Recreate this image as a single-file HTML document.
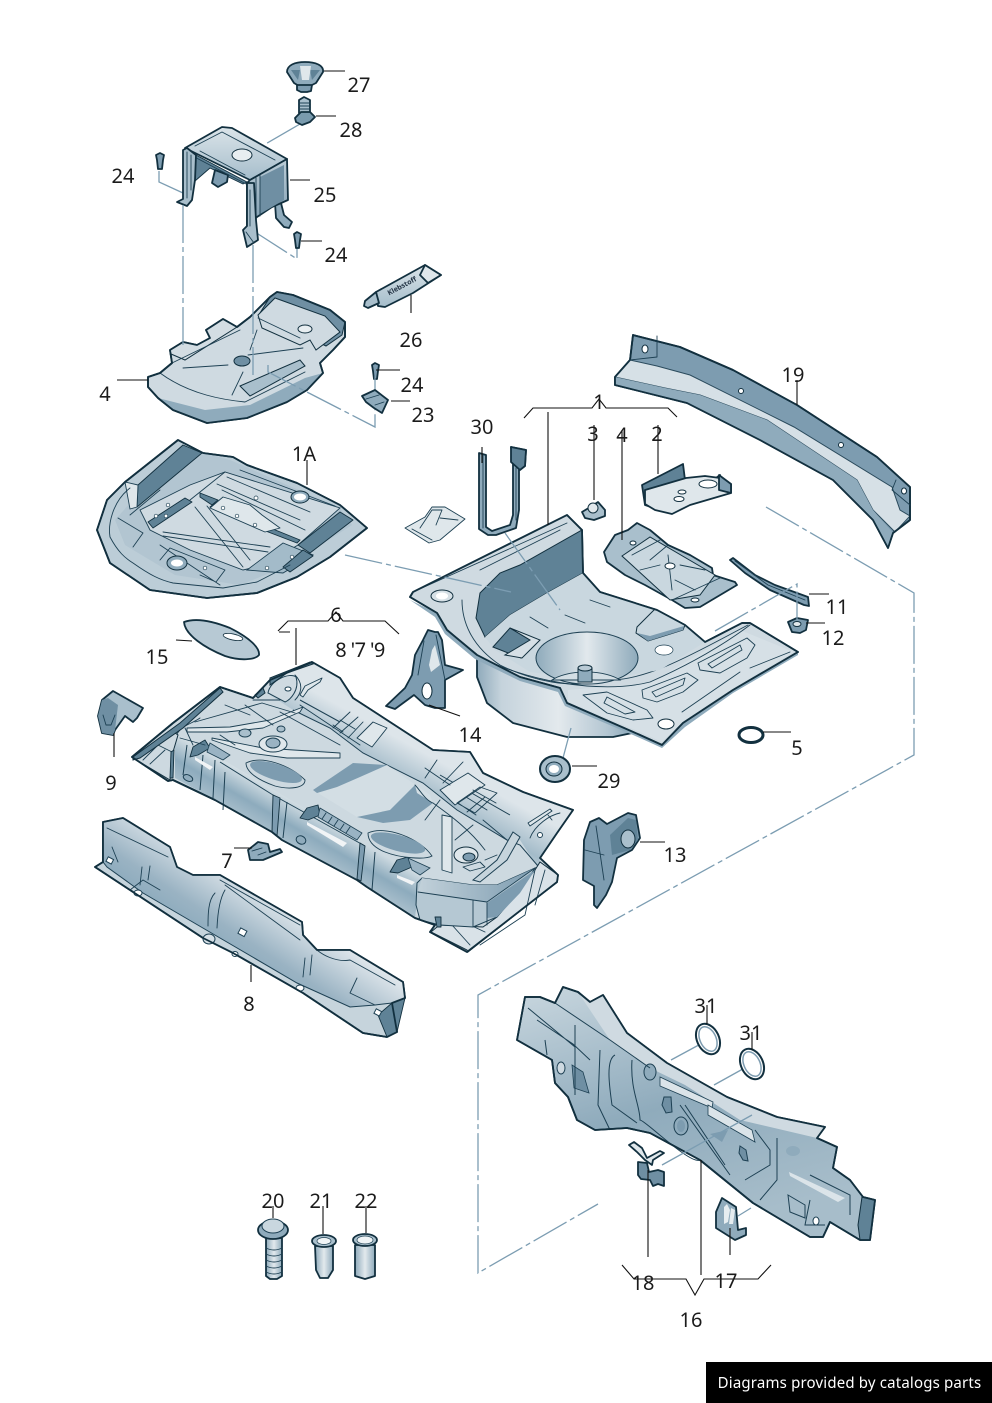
<!DOCTYPE html>
<html><head><meta charset="utf-8"><title>Diagram</title>
<style>
html,body{margin:0;padding:0;background:#fff}
svg{display:block}
text{font-family:"Noto Sans","Noto Sans CJK JP","Liberation Sans",sans-serif;font-size:20px;fill:#1b1b1b;text-anchor:middle}
.o{stroke:#12303f;stroke-width:1.8;stroke-linejoin:round;stroke-linecap:round}
.t{fill:none;stroke:#1d4053;stroke-width:.9;stroke-linecap:round;stroke-linejoin:round}
.l{fill:none;stroke:#111;stroke-width:1.1}
.d{fill:none;stroke:#7c9db2;stroke-width:1.3;stroke-dasharray:38 4 5 4}
.s{fill:none;stroke:#7c9db2;stroke-width:1.3}
.lt{fill:#dfe7eb;stroke:#1d4053;stroke-width:.9;stroke-linejoin:round}
.dk{fill:#5f8296;stroke:#12303f;stroke-width:.9;stroke-linejoin:round}
</style></head><body>
<svg width="992" height="1403" viewBox="0 0 992 1403" xmlns="http://www.w3.org/2000/svg">
<defs>
<linearGradient id="v" x1="0" y1="0" x2="0" y2="1"><stop offset="0" stop-color="#dbe4e9"/><stop offset="1" stop-color="#a5bdcb"/></linearGradient>
<linearGradient id="m" x1="0" y1="0" x2="0" y2="1"><stop offset="0" stop-color="#bccdd7"/><stop offset="1" stop-color="#7d9cb0"/></linearGradient>
<linearGradient id="tub" x1="0" y1="0" x2="1" y2="0"><stop offset="0" stop-color="#8faabb"/><stop offset=".15" stop-color="#c5d3dc"/><stop offset=".5" stop-color="#e3e9ed"/><stop offset=".8" stop-color="#b3c6d2"/><stop offset="1" stop-color="#7f9eb1"/></linearGradient>
<linearGradient id="well" x1="0" y1="0" x2="1" y2="0"><stop offset="0" stop-color="#8eaabb"/><stop offset=".5" stop-color="#e2e9ed"/><stop offset="1" stop-color="#8eaabb"/></linearGradient>
<linearGradient id="dash" x1="0" y1="0" x2=".4" y2="1"><stop offset="0" stop-color="#c9d7df"/><stop offset=".55" stop-color="#8fabbc"/><stop offset="1" stop-color="#a7bdca"/></linearGradient>
<linearGradient id="wall" gradientUnits="userSpaceOnUse" x1="300" y1="805" x2="280" y2="840"><stop offset="0" stop-color="#d3dee4"/><stop offset=".55" stop-color="#8dabbd"/><stop offset="1" stop-color="#a9bfcc"/></linearGradient>
<linearGradient id="rail" gradientUnits="userSpaceOnUse" x1="410" y1="745" x2="385" y2="790"><stop offset="0" stop-color="#dde5ea"/><stop offset=".7" stop-color="#a3bbc9"/><stop offset="1" stop-color="#c6d4dc"/></linearGradient>
<linearGradient id="tun" gradientUnits="userSpaceOnUse" x1="270" y1="895" x2="230" y2="955"><stop offset="0" stop-color="#e0e7ec"/><stop offset=".7" stop-color="#9ab3c3"/><stop offset="1" stop-color="#8dabbd"/></linearGradient>
<linearGradient id="blk" x1="0" y1="0" x2="1" y2="0"><stop offset="0" stop-color="#c2d1da"/><stop offset="1" stop-color="#7d9cb0"/></linearGradient>
</defs>
<rect width="992" height="1403" fill="#fff"/>

<!-- background dash lines -->
<path class="d" d="M766 507 914 593V755L478 995V1273L598 1204"/>
<path class="d" d="M300 124 250 153"/>
<path class="s" d="M159 171V182L183 193"/>
<path class="d" d="M255 232 297 259V243"/>

<!-- 27 knob -->
<path class="o" fill="#8fabbc" d="M287 72C287 65 295 62 305 62S324 65 323 72L316 83 310 86H299L294 83Z"/>
<path fill="#5f8296" d="M291 70 298 80 300 70ZM320 70 312 80 310 70Z"/>
<path fill="#dfe7eb" d="M300 66H311L309 80H302Z"/>
<path class="o" fill="#7d9cb0" d="M297 85H312L311 91 307 92H301L297 90Z"/>
<!-- 28 bolt -->
<path class="o" fill="#a9bfcc" d="M299 100 304 97 310 100V113H299Z"/>
<path class="t" d="M299 103H310M299 106H310M299 109H310"/>
<path class="o" fill="#7a9bae" d="M295 118 301 112H310L315 117 310 122 302 125 296 122Z"/>
<!-- 24 bolts -->
<path class="o" fill="#7d9cb0" d="M156 155 160 153 164 155 163 160 162 169H158L157 160Z"/>
<path class="o" fill="#7d9cb0" d="M294 234 297 232 301 234 300 240 299 248H296L295 240Z"/>
<path class="o" fill="#7d9cb0" d="M372 365 375 363 379 365 378 371 377 379H374L373 371Z"/>

<!-- 25 bracket -->
<path class="dk" d="M196 155 247 182 243 184 210 168 195 181Z"/>
<path class="o" fill="#7d9cb0" d="M212 183 215 170 228 175 227 182 218 187Z"/>
<path class="o" fill="#8fabbc" d="M275 203 281 203 284 215 292 222 289 228 284 227 276 218Z"/>
<path class="o" fill="url(#v)" d="M185 148 222 127 232 128 287 159 250 180Z"/>
<ellipse cx="242" cy="155" rx="10" ry="6" fill="#e8eef1" stroke="#12303f" stroke-width="1"/>
<path class="t" d="M195 146 222 132 275 160M200 151 245 175M185 152 248 185"/>
<path class="o" fill="url(#m)" d="M250 180 287 159 288 200 272 207 257 217 247 227V183Z"/>
<path d="M260 177 284 165V200L260 214Z" fill="#6f8fa3"/>
<path class="t" d="M256 178V220M260 175V216"/>
<path class="o" fill="#a9bfcc" d="M183 150 187 148 196 155 195 180 192 200 187 206 177 202 183 199Z"/>
<path class="t" d="M187 152V198M191 155V190"/>
<path class="o" fill="#a9bfcc" d="M247 183 254 183 256 220 258 240 247 247 243 230 247 226Z"/>
<path class="t" d="M250 190V226M246 232 254 243"/>

<!-- 26 tube -->
<path class="o" fill="url(#v)" d="M376 292 425 265 441 275 413 293 385 307 378 306Z"/>
<path class="o" fill="#a9bfcc" d="M376 292 365 301 364 306 368 308 379 303Z"/>
<path class="o" fill="#dfe7eb" d="M425 265 441 275 428 283 420 275Z"/>
<text x="403" y="288" transform="rotate(-28 403 288)" style="font-size:7px;font-weight:bold;fill:#234">Klebstoff</text>

<!-- 4 upper tray -->
<path class="o" fill="#cfdae1" d="M148 377 160 373 172 363 170 350 183 342 197 345 210 338 206 330 223 319 237 327 250 317 270 297 277 292 293 295 330 310 345 322 345 337 333 350 320 363 323 373 307 390 287 402 247 418 207 423 173 410 158 398 148 387Z"/>
<path fill="#6f8fa3" stroke="#12303f" d="M270 297 277 292 293 295 330 310 345 322 342 335 326 346 310 338 300 320 260 313Z"/>
<path fill="#cfdae1" stroke="#12303f" d="M258 315 275 298 325 316 340 332 316 350 310 340 300 345 262 328Z"/>
<path fill="#d3dde3" stroke="#12303f" d="M170 350 183 342 197 345 210 338 206 330 223 319 237 327 185 360 171 354Z"/>
<path class="t" d="M160 373C190 395 225 400 245 402L305 372M172 363 240 330M183 368 228 365M248 355 303 348M258 318 300 338M243 372 232 395M257 330 250 350"/>
<path fill="#a9bfcc" stroke="#12303f" d="M240 386 300 360 305 366 250 396Z"/>
<ellipse cx="242" cy="361" rx="8" ry="5" fill="#6f8fa3" stroke="#12303f"/>
<ellipse cx="305" cy="329" rx="7" ry="4" fill="#e8eef1" stroke="#12303f"/>
<path fill="#8fabbc" d="M158 398 205 410 250 405 305 378 323 373 307 390 287 402 247 418 207 423 173 410Z"/>
<path class="o" fill="none" d="M148 377 160 373 172 363 170 350 183 342 197 345 210 338 206 330 223 319 237 327 250 317 270 297 277 292 293 295 330 310 345 322 345 337 333 350 320 363 323 373 307 390 287 402 247 418 207 423 173 410 158 398 148 387Z"/>
<path class="d" d="M183 205V345"/>
<path class="d" d="M253 245V375"/>
<path class="d" d="M268 365V372L375 427V395"/>
<path class="s" d="M375 372V395"/>

<!-- 23 -->
<path class="o" fill="#8fabbc" d="M362 396 375 390 388 400 382 413 374 408 366 402Z"/>
<path class="t" d="M366 399 379 395M375 405 384 402"/>

<!-- 1A tray -->
<path class="o" fill="#bccdd7" d="M178 440 203 453 233 457 247 465 297 483 340 505 367 528 330 557 297 577 257 593 207 598 150 590 110 563 97 530 107 500 125 482Z"/>
<path fill="#a9bfcc" d="M180 447 230 460 340 508 352 525 290 565 240 585 175 575 125 545 115 520Z" opacity=".55"/>
<path fill="#cfdae1" stroke="#1d4053" stroke-width=".9" d="M140 510 190 485 225 472 340 508 298 545 265 565 243 570 190 550 150 530Z"/>
<path class="dk" d="M137 507 138 485 183 445 202 453Z"/>
<path class="lt" d="M125 482 138 485 137 507 130 509Z"/>
<path class="dk" d="M298 545 340 512 353 520 310 553Z"/>
<path class="dk" d="M148 522 185 498 192 502 153 528Z"/>
<path class="dk" d="M200 493 218 500 212 505 200 497Z"/>
<path class="dk" d="M210 507 263 530 297 543 300 540 263 525 215 503Z"/>
<path fill="#a3bbc9" stroke="#1d4053" stroke-width=".9" d="M247 570 283 543 313 555 283 573Z"/>
<path class="dk" d="M283 567 303 550 313 556 290 572Z"/>
<path class="lt" d="M210 508 223 497 250 505 262 515 280 528 265 532Z"/>
<path class="t" d="M130 488C112 502 108 525 110 537 118 552 125 558 133 563 150 575 160 580 173 583L223 588 257 582 290 565M225 472 190 500M195 507 243 567M207 506 250 560M163 532 270 547M163 536 268 552M118 518 143 533 133 547M160 545 220 585M160 560 170 548 225 570 216 582 200 575M227 477 310 512M217 484 300 520M222 490 305 530M240 470 335 506M160 490 130 515"/>
<ellipse cx="177" cy="563" rx="10" ry="7" fill="#8fabbc" stroke="#12303f"/>
<ellipse cx="177" cy="563" rx="6" ry="3.500" fill="#fff"/>
<ellipse cx="300" cy="497" rx="9" ry="6" fill="#8fabbc" stroke="#12303f"/>
<ellipse cx="300" cy="497" rx="6" ry="3.500" fill="#fff"/>
<g fill="#fff" stroke="#1d4053" stroke-width=".7"><circle cx="256" cy="498" r="2"/><circle cx="223" cy="508" r="1.800"/><circle cx="237" cy="516" r="1.800"/><circle cx="255" cy="525" r="1.800"/><circle cx="156" cy="516" r="1.800"/><circle cx="166" cy="516" r="1.800"/><circle cx="168" cy="505" r="1.800"/><circle cx="267" cy="568" r="1.800"/><circle cx="292" cy="557" r="1.800"/><circle cx="205" cy="568" r="1.800"/></g>
<path class="o" fill="none" d="M178 440 203 453 233 457 247 465 297 483 340 505 367 528 330 557 297 577 257 593 207 598 150 590 110 563 97 530 107 500 125 482Z"/>

<!-- 30 small plate -->
<path class="lt" d="M405 528 425 517 432 507 445 507 465 519 440 540 429 543Z"/>
<path class="t" d="M420 528 432 510 442 510 436 525M412 529 432 540M440 518 458 520"/>
<!-- 30 strap -->
<path class="o" fill="#8fabbc" d="M479 453 486 455 486 527 492 531 510 525 513 515 513 462 511 447 526 450 525 466 519 470 519 510 516 528 496 535 488 535 479 529Z"/>
<path class="t" d="M483 455V528M516 468V520"/>
<path class="o" fill="#5f8296" d="M511 447 526 450 525 466 520 470 511 462Z"/>

<!-- 3 -->
<path class="o" fill="#a9bfcc" d="M582 512 592 506 598 502 605 510 605 516 594 520 585 518Z"/>
<ellipse cx="593" cy="508" rx="5" ry="5" fill="#e2e9ed" stroke="#12303f"/>

<!-- 2 -->
<path class="o" fill="#5f8296" d="M642 485 683 464 685 480 700 490 720 475 719 490 660 510 645 505Z"/>
<path class="o" fill="#dfe7eb" d="M645 490 686 478 705 476 720 478 731 484 731 493 690 505 672 514 655 510 645 504Z"/>
<ellipse cx="708" cy="484" rx="9" ry="4" fill="#fff" stroke="#12303f"/>
<ellipse cx="682" cy="492" rx="4" ry="2" fill="#fff" stroke="#12303f"/>
<ellipse cx="679" cy="499" rx="5" ry="2.500" fill="#fff" stroke="#12303f"/>
<path class="o" fill="#7d9cb0" d="M719 475 731 484 731 493 719 490Z"/>

<!-- 4 lower tray -->
<path class="o" fill="#a9bfcc" d="M604 552 615 535 628 530 637 523 650 530 668 545 690 555 712 568 713 575 735 582 737 585 700 607 685 608 672 600 645 585 625 575 607 562Z"/>
<path fill="#c9d7df" stroke="#12303f" d="M622 556 650 537 715 575 700 595 670 600Z"/>
<path class="t" d="M632 555 660 540M650 560 668 545M675 580 695 590M640 570 660 565M668 555 672 590M680 565 705 570M672 600 720 578"/>
<ellipse cx="670" cy="566" rx="5" ry="3" fill="#fff" stroke="#12303f"/>
<ellipse cx="633" cy="543" rx="3" ry="2" fill="#fff" stroke="#12303f"/>
<ellipse cx="695" cy="600" rx="4" ry="2" fill="#fff" stroke="#12303f"/>

<!-- 19 beam -->
<path class="o" fill="#7d9cb0" d="M633 335 630 360 615 377 615 385 687 403 760 440 833 480 873 520 888 548 893 533 910 520 910 487 877 457 797 405 733 370 680 347Z"/>
<path fill="#d6e0e6" stroke="#2a4a5c" d="M630 360 615 377 665 388 700 395 767 420 857 480 873 510 895 532 910 516 900 510 892 487 794 427 690 375 657 366Z"/>
<path fill="#8fabbc" d="M615 377 665 388 700 395 767 420 857 480 873 510 893 533 888 548 873 520 833 480 760 440 687 403 615 385Z"/>
<path class="o" fill="none" d="M633 335 630 360 615 377 615 385 687 403 760 440 833 480 873 520 888 548 893 533 910 520 910 487 877 457 797 405 733 370 680 347Z"/>
<g fill="#fff" stroke="#12303f" stroke-width="1"><ellipse cx="645" cy="349" rx="3" ry="4"/><ellipse cx="741" cy="391" rx="2.500" ry="2.500"/><ellipse cx="841" cy="445" rx="2.500" ry="2.500"/><ellipse cx="904" cy="491" rx="2.500" ry="3"/></g>
<path class="t" d="M657 336V357L630 360M896 480 892 490 910 505"/>

<!-- 11 -->
<path class="o" fill="#7d9cb0" d="M730 560 733 558 755 575 775 585 808 597 809 606 804 605 770 590 745 573Z"/>
<path class="t" d="M735 561 768 585 805 600"/>
<!-- 12 -->
<path class="o" fill="#7d9cb0" d="M788 622 797 618 808 620 806 630 800 633 792 632Z"/>
<ellipse cx="797" cy="624" rx="4" ry="2.500" fill="#e2e9ed" stroke="#12303f"/>

<!-- 1 trunk -->
<path class="o" fill="url(#tub)" d="M477 650 640 720 637 732 613 737 567 737 513 723 487 703 477 677Z"/>
<path class="o" fill="#cfdae1" d="M410 597 413 592 567 515 582 530 583 573 600 592 657 610 685 625 705 642 742 623 750 623 798 652 733 690 683 723 662 745 640 735 567 703 560 688 520 677 477 655 447 630 437 613Z"/>
<path fill="#5f8296" stroke="#12303f" d="M582 530 583 573 547 593 510 615 485 637 476 618 480 593 500 573 520 565Z"/>
<path class="t" d="M413 592 567 523M480 570 560 530M462 600C462 620 470 645 500 665 530 680 570 690 610 680 650 680 700 650 748 625"/>
<path fill="#c9d7df" d="M485 637 510 615 547 593 583 573 600 592 657 610 685 625 705 642 660 670 600 680 530 672 495 650Z"/>
<path fill="#5f8296" stroke="#12303f" d="M493 647 510 628 530 640 521 658Z"/>
<path fill="#d6e0e6" stroke="#12303f" d="M510 628 540 640 522 658 505 655 530 640Z"/>
<ellipse cx="587" cy="658" rx="51" ry="26" fill="url(#well)" stroke="#1d4053"/>
<path d="M552 680A40 17 0 0 1 620 680Z" fill="#d3dee4" stroke="#1d4053" stroke-width=".9"/>
<rect x="578" y="668" width="14" height="14" fill="#8fabbc" stroke="#12303f"/>
<ellipse cx="585" cy="668" rx="7" ry="3" fill="#b9cad5" stroke="#12303f"/>
<path fill="#c9d7df" stroke="#12303f" d="M637 627 655 609 685 625 683 630 648 641 636 633Z"/>
<path fill="#7d9cb0" d="M637 633 648 641 683 630 684 626 650 636Z"/>
<ellipse cx="664" cy="650" rx="9" ry="5" fill="#fff" stroke="#1d4053" stroke-width=".7"/>
<ellipse cx="442" cy="596" rx="11" ry="6" fill="#d6e0e6" stroke="#12303f"/>
<ellipse cx="442" cy="596" rx="6" ry="3.500" fill="#fff"/>
<path class="t" d="M530 617 548 628M565 615 585 623M590 600 610 607"/>
<path fill="#d6e0e6" d="M568 690 650 683 740 630 794 652 730 690 682 722 662 742 640 732 568 702Z"/>
<path fill="#8fabbc" d="M410 600 437 613 447 630 477 655 520 677 560 688 567 703 640 735 662 745 683 723 733 690 798 652 798 655 733 693 685 727 662 748 640 738 565 706 558 692 520 681 475 659 445 634 435 617Z"/>
<path class="t" d="M477 655C520 680 600 695 650 682 700 660 730 640 750 625"/>
<path class="t" fill="none" d="M583 695 607 692 647 710 653 718 633 720 607 713ZM642 690 687 673 698 680 683 692 657 702 643 698ZM698 663 747 638 755 645 747 658 720 673 700 670ZM607 697 635 712 625 714 604 703ZM652 692 685 678 683 685 656 697ZM708 664 740 645 742 650 712 668Z"/>
<ellipse cx="666" cy="724" rx="8" ry="5" fill="#fff" stroke="#12303f"/>
<path class="t" d="M682 712 740 672M750 668 790 652"/>
<path class="o" fill="none" d="M410 597 413 592 567 515 582 530 583 573 600 592 657 610 685 625 705 642 742 623 750 623 798 652 733 690 683 723 662 745 640 735 567 703 560 688 520 677 477 655 447 630 437 613Z"/>
<path class="d" d="M345 555 511 592"/>
<path class="d" d="M505 533 560 610"/>
<path class="d" d="M715 631 797 584V620"/>
<path class="s" d="M571 728 563 758"/>

<!-- 5 -->
<ellipse cx="751" cy="735" rx="12" ry="7.500" fill="none" stroke="#12303f" stroke-width="3"/>
<!-- 29 -->
<ellipse cx="555" cy="769" rx="15" ry="13" fill="#a9bfcc" stroke="#12303f" stroke-width="2"/>
<ellipse cx="554" cy="769" rx="8" ry="7" fill="#8fabbc" stroke="#12303f"/>
<ellipse cx="554" cy="769" rx="5" ry="4" fill="#fff"/>

<!-- 15 -->
<path class="o" fill="#b7c9d4" d="M184 622C195 618 210 620 230 628 250 638 260 648 259 655 255 660 240 661 225 656 205 648 185 635 184 622Z"/>
<ellipse cx="233" cy="637" rx="10" ry="3" transform="rotate(12 233 637)" fill="#fff" stroke="#12303f" stroke-width=".8"/>

<!-- 14 -->
<path class="o" fill="#7d9cb0" d="M423 640 428 630 435 632 438 632 442 640 445 665 463 670 445 680 445 708 435 708 425 705 414 695 395 709 386 706 405 688 412 675 415 655Z"/>
<path fill="#dfe7eb" d="M432 650 435 645 440 665 431 672 429 665Z"/>
<ellipse cx="427" cy="691" rx="5" ry="8" fill="#fff" stroke="#12303f"/>
<path class="t" d="M424 641 418 675M436 635 445 680"/>

<!-- 9 -->
<path class="o" fill="#a9bfcc" d="M102 700 113 691 143 708 137 718 133 722 125 716 115 730 113 735 102 733 98 716Z"/>
<path fill="#6f8fa3" d="M98 716 102 700 108 698 118 705 115 730 113 735 102 733Z"/>
<path class="t" d="M103 715 106 725M115 715 111 725M106 725H111"/>

<!-- 6 floor -->
<path class="o" fill="#cdd9e0" d="M132 757 173 723 220 687 253 698 270 680 312 662 340 678 353 698 433 750 470 752 483 773 523 792 573 810 557 833 540 858 558 875 557 882 467 952 430 932 435 925 415 918 367 887 357 880 282 840 272 832 215 800 173 780 168 781Z"/>
<!-- rail -->
<path fill="url(#rail)" d="M270 680 312 662 340 678 353 698 433 750 470 752 483 773 523 792 573 810 557 833 540 858 538 868 520 840 507 840 457 810 423 783 363 753 330 728 293 710 270 695Z"/>
<path fill="none" stroke="#1d4053" d="M293 710 330 728 363 753 423 783 457 810 507 840 520 845 538 866M300 700 340 722M440 775 510 815"/>
<path class="lt" d="M357 738 373 722 387 728 372 747Z"/>
<path class="lt" d="M440 790 468 773 485 785 455 805Z"/>
<path class="t" d="M333 725 343 732M340 720 355 729M350 712 333 728M358 717 340 733M363 722 348 738M425 778 437 760M443 783 463 762M425 768 450 785M457 803 480 787 497 793 475 813ZM466 797 487 810M473 790 496 803M467 812 485 797M458 803 476 815"/>
<!-- wall -->
<path fill="url(#wall)" d="M175 738C178 733 190 740 215 755L420 877 415 918 367 887 357 880 282 840 272 832 215 800 175 778Z"/>
<path fill="none" stroke="#1d4053" stroke-width="1" d="M220 762 273 795 365 846M187 745 183 775M203 755 200 790M215 760 213 798M225 772 223 810M287 802 283 838M375 852 372 890"/>
<path class="dk" style="fill:#7d9cb0" d="M273 795 280 798 277 836 272 832Z"/>
<path class="dk" style="fill:#7d9cb0" d="M360 843 365 846 361 881 357 879Z"/>
<ellipse cx="188" cy="778" rx="5" ry="3" transform="rotate(25 188 778)" fill="#8fabbc" stroke="#1d4053"/>
<ellipse cx="301" cy="840" rx="5" ry="4" transform="rotate(25 301 840)" fill="#8fabbc" stroke="#1d4053"/>
<path class="dk" d="M190 757 193 747 205 740 210 748 198 755Z"/>
<path fill="#9ab3c3" stroke="#1d4053" stroke-width=".8" d="M210 743 230 755 223 760 207 752Z"/>
<path fill="#f1f4f6" d="M195 757 213 767 210 770 195 760Z"/>
<path class="dk" d="M300 818 307 808 318 805 320 815 308 820Z"/>
<path fill="#9ab3c3" stroke="#1d4053" stroke-width=".8" d="M320 808 362 833 357 840 318 817Z"/>
<path class="t" d="M326 813 322 819M332 817 328 823M338 820 334 826M344 824 340 830M350 827 346 833"/>
<path fill="#f1f4f6" d="M307 822 347 843 343 847 307 825Z"/>
<path class="dk" d="M390 872 397 860 408 857 412 867 398 873Z"/>
<path fill="#9ab3c3" stroke="#1d4053" stroke-width=".8" d="M408 858 430 868 420 875 412 870Z"/>
<path fill="#f1f4f6" d="M397 875 415 882 412 885 397 878Z"/>
<!-- center -->
<path fill="#d3dee4" d="M313 790 387 765 430 795 433 803 383 823 357 817Z"/>
<path fill="#7d9cb0" d="M313 790 353 763 387 765 360 777 337 787 317 793Z"/>
<path fill="#7d9cb0" d="M357 817 390 810 415 785 417 793 433 803 410 820 383 823Z"/>
<path fill="#cdd9e0" stroke="#1d4053" stroke-width=".9" d="M246 763C262 755 290 765 305 780 305 788 290 790 275 786 258 780 246 772 246 763Z"/>
<ellipse cx="276" cy="772" rx="27" ry="8" transform="rotate(17 276 772)" fill="#7d9cb0"/>
<path fill="#cdd9e0" stroke="#1d4053" stroke-width=".9" d="M368 833C385 825 420 838 432 856 425 860 400 858 385 852 375 848 368 842 368 833Z"/>
<ellipse cx="398" cy="843" rx="28" ry="8" transform="rotate(15 398 843)" fill="#7d9cb0"/>
<!-- left top -->
<path class="lt" d="M187 728 230 727 270 720 303 707 300 712 263 728 227 732 187 732Z"/>
<path class="lt" d="M212 738 263 748 340 753 340 758 287 758 250 753 212 740Z"/>
<path class="t" d="M175 738C180 725 190 725 200 718M195 722 262 703M225 705 250 715M245 705 273 725M262 703 295 713M180 738 205 745M185 728 193 745M220 735 235 745M280 712 340 745M300 705 360 745M253 700 280 700M295 675C305 685 300 695 295 700"/>
<ellipse cx="245" cy="733" rx="6" ry="4" fill="#a9bfcc" stroke="#1d4053"/>
<ellipse cx="273" cy="744" rx="14" ry="8" fill="#dfe7eb" stroke="#1d4053"/>
<ellipse cx="273" cy="743" rx="7" ry="5" fill="#9ab3c3" stroke="#1d4053"/>
<ellipse cx="281" cy="729" rx="4" ry="3" fill="#a9bfcc" stroke="#1d4053"/>
<path fill="#cfdae1" stroke="#1d4053" d="M268 693C270 680 290 672 296 677 300 690 290 700 285 702Z"/>
<ellipse cx="288" cy="689" rx="3" ry="2" fill="#fff" stroke="#1d4053"/>
<path class="lt" d="M300 695 305 686 322 678 320 682 308 690 303 697Z"/>
<path fill="#5f8296" stroke="#12303f" d="M270 678 310 662 313 664 287 673 270 685Z"/>
<path fill="#5f8296" stroke="#12303f" d="M255 695 263 688 265 693 258 698Z"/>
<!-- left flange -->
<path fill="#cdd9e0" stroke="#12303f" d="M133 758 175 733 178 735 173 752 170 780Z"/>
<path class="t" d="M143 760 158 745 172 752M150 764 165 750"/>
<path fill="#5f8296" stroke="#12303f" d="M133 757 180 723 220 688 223 692 183 728 140 758 133 760Z"/>
<path class="dk" d="M171 752 174 750 173 778 170 778Z"/>
<!-- rear -->
<path class="lt" d="M442 815 452 817 452 873 442 870Z"/>
<ellipse cx="466" cy="855" rx="12" ry="8" fill="#dfe7eb" stroke="#12303f"/>
<ellipse cx="469" cy="857" rx="6" ry="4" fill="#7d9cb0" stroke="#12303f"/>
<path fill="#c6d4dc" stroke="#1d4053" d="M513 832 520 837 507 860 480 882 473 880 497 860Z"/>
<path class="t" d="M463 867 480 862 485 867 470 871ZM455 840 473 825M483 820 507 840M485 860 497 855M425 820 440 800M415 785C420 790 425 800 433 803 450 815 470 830 485 850"/>
<path class="lt" d="M528 823 550 809 552 811 530 826Z"/>
<circle cx="540" cy="835" r="2.500" fill="#fff" stroke="#1d4053"/>
<path class="t" d="M530 838C535 825 550 815 560 813M548 815 552 820"/>
<!-- rear flange & block -->
<path fill="#d9e2e8" stroke="#12303f" d="M431 932 437 927 440 925 483 927 497 917 535 870 540 862 558 875 557 882 468 952 467 950Z"/>
<path class="t" d="M452 925 470 945M470 925 485 932M535 870 525 915 480 945M545 870 535 905"/>
<path fill="#b5c8d3" stroke="#1d4053" d="M417 883 422 878 473 885 497 885 535 868 522 888 497 917 473 927 440 925 420 920 416 905Z"/>
<path fill="url(#blk)" d="M422 878 473 885 497 885 535 868 487 902 473 900 418 892Z"/>
<path d="M487 903 535 870 520 893 497 917 487 918Z" fill="#7d9cb0"/>
<path class="t" d="M473 900V927M487 903V925M418 892 473 900 487 902 535 868"/>
<path class="dk" d="M435 917 441 917 441 927 437 927Z"/>
<path class="o" fill="none" d="M132 757 173 723 220 687 253 698 270 680 312 662 340 678 353 698 433 750 470 752 483 773 523 792 573 810 557 833 540 858 558 875 557 882 467 952 430 932 435 925 415 918 367 887 357 880 282 840 272 832 215 800 173 780 168 781Z"/>

<!-- 7 -->
<path class="o" fill="#8fabbc" d="M248 850 258 842 268 844 270 852 280 849 282 852 263 860 250 860Z"/>
<path class="t" d="M252 851 262 848M258 855 266 852"/>

<!-- 8 tunnel -->
<path class="o" fill="#c6d4dc" d="M103 822 123 818 170 847 177 867 193 875 220 875 302 922 303 935 317 950 350 950 403 982 405 998 392 1003 397 1032 387 1037 363 1033 303 993 233 953 203 938 130 890 95 867 103 862Z"/>
<path fill="url(#tun)" stroke="#1d4053" stroke-width="1" d="M103 822 123 818 170 847 177 867 193 875 220 875 302 922 303 935 317 950 350 950 403 982 405 998 392 1003 375 1005 350 1007 297 983 220 938 143 893 107 867 103 862Z"/>
<path class="dk" d="M392 1003 405 998 397 1032 387 1037 378 1015Z"/>
<path class="t" d="M107 828 168 857M220 880 300 925M357 978 350 993 375 1005M308 940C320 958 340 962 350 960L395 985M142 867 140 885M150 866 148 880M215 893C208 900 208 915 208 926M225 890C222 895 218 905 217 928M305 958 303 977M312 955 310 975M112 847 118 862M225 885 300 940M130 890 143 880 160 890"/>
<ellipse cx="209" cy="939" rx="6" ry="5" fill="#d6e0e6" stroke="#1d4053"/>
<ellipse cx="235" cy="954" rx="3" ry="2.500" fill="#fff" stroke="#1d4053"/>
<ellipse cx="300" cy="988" rx="4" ry="3" fill="#fff" stroke="#1d4053"/>
<ellipse cx="138" cy="893" rx="4" ry="3" fill="#fff" stroke="#1d4053"/>
<rect x="239" y="929" width="7" height="6" fill="#fff" stroke="#1d4053" transform="rotate(28 242 932)"/>
<rect x="107" y="858" width="6" height="5" fill="#fff" stroke="#1d4053" transform="rotate(28 110 860)"/>
<rect x="375" y="1010" width="6" height="5" fill="#fff" stroke="#1d4053" transform="rotate(28 378 1012)"/>
<path class="o" fill="none" d="M103 822 123 818 170 847 177 867 193 875 220 875 302 922 303 935 317 950 350 950 403 982 405 998 392 1003 397 1032 387 1037 363 1033 303 993 233 953 203 938 130 890 95 867 103 862Z"/>

<!-- 13 -->
<path class="o" fill="#7d9cb0" d="M590 822 599 818 607 824 628 813 636 815 640 838 632 850 617 858 612 882 606 895 597 908 594 905 594 886 583 880 584 840Z"/>
<path fill="#5f8296" d="M610 835 628 818 636 820 638 840 630 850 612 855Z"/>
<ellipse cx="628" cy="839" rx="7" ry="9" fill="#a9bfcc" stroke="#12303f"/>
<path class="t" d="M596 826 604 880M585 850 604 855"/>

<!-- 16 panel -->
<path class="o" fill="url(#dash)" d="M525 997 540 997 555 1003 563 987 578 992 590 1002 603 995 627 1033 667 1063 727 1097 777 1117 825 1127 817 1138 837 1147 833 1168 850 1180 863 1197 875 1200 870 1240 860 1240 830 1222 823 1237 810 1237 753 1203 700 1160 650 1133 627 1128 595 1130 577 1120 568 1097 555 1083 552 1060 517 1040Z"/>
<path fill="#cfdae1" d="M578 992 590 1002 603 995 627 1033 667 1063 727 1097 777 1117 825 1127 817 1138 740 1120 685 1085 650 1068 610 1040Z"/>
<path fill="#5f8296" stroke="#12303f" d="M862 1197 875 1200 870 1240 860 1240 858 1225Z"/>
<path fill="#6f8fa3" stroke="#1d4053" stroke-width=".8" d="M572 1065 583 1072 589 1093 574 1088Z"/>
<ellipse cx="681" cy="1126" rx="7" ry="9" fill="#8fabbc" stroke="#1d4053"/>
<ellipse cx="681" cy="1126" rx="4" ry="6" fill="#7d9cb0"/>
<ellipse cx="650" cy="1072" rx="6" ry="8" fill="#8fabbc" stroke="#1d4053"/>
<ellipse cx="793" cy="1151" rx="7" ry="5" fill="#8fabbc"/>
<path fill="#6f8fa3" stroke="#1d4053" d="M664 1097 671 1097 672 1112 666 1113 662 1105Z"/>
<path fill="#6f8fa3" stroke="#1d4053" d="M740 1146 746 1150 748 1161 743 1160 739 1153Z"/>
<path fill="#dbe4e9" stroke="#1d4053" stroke-width=".8" d="M660 1077 713 1102 712 1108 660 1086Z"/>
<path fill="#dbe4e9" stroke="#1d4053" stroke-width=".8" d="M708 1105 752 1130 755 1142 708 1115Z"/>
<path fill="#7d9cb0" d="M710 1134 728 1130 722 1142Z"/>
<path fill="#dbe4e9" d="M789 1172 845 1198 838 1202 790 1176Z"/>
<path fill="none" stroke="#1d4053" stroke-width="1" d="M528 1008 575 1047M537 1020 573 1044 590 1060M575 1025V1095M600 1050 598 1105 610 1130M615 1055C605 1060 610 1090 612 1105L637 1123M632 1060C630 1090 640 1105 640 1120 645 1120 690 1165 700 1160M680 1105 730 1175M685 1105 725 1165M555 1003 610 1040 650 1068M777 1138 777 1180 760 1200M745 1180 770 1165 770 1150 755 1130M810 1175 850 1195 850 1215M810 1200 805 1225 825 1225M788 1195 805 1205 805 1218 790 1212ZM545 1040 547 1055"/>
<ellipse cx="561" cy="1068" rx="4" ry="6" fill="#cfdae1" stroke="#1d4053"/>
<ellipse cx="816" cy="1221" rx="3" ry="4" fill="#fff" stroke="#1d4053"/>
<path class="o" fill="none" d="M525 997 540 997 555 1003 563 987 578 992 590 1002 603 995 627 1033 667 1063 727 1097 777 1117 825 1127 817 1138 837 1147 833 1168 850 1180 863 1197 875 1200 870 1240 860 1240 830 1222 823 1237 810 1237 753 1203 700 1160 650 1133 627 1128 595 1130 577 1120 568 1097 555 1083 552 1060 517 1040Z"/>

<!-- 16 connectors -->
<path class="s" d="M708 1040 671 1060M750 1065 714 1085M752 1115 662 1165M751 1208 738 1216"/>
<!-- 31 rings -->
<ellipse cx="708" cy="1039" rx="11" ry="16" transform="rotate(-25 708 1039)" fill="#fff" stroke="#12303f" stroke-width="2"/>
<ellipse cx="708" cy="1039" rx="8" ry="13" transform="rotate(-25 708 1039)" fill="#fff" stroke="#7d9cb0" stroke-width="1.500"/>
<ellipse cx="752" cy="1064" rx="11" ry="16" transform="rotate(-25 752 1064)" fill="#fff" stroke="#12303f" stroke-width="2"/>
<ellipse cx="752" cy="1064" rx="8" ry="13" transform="rotate(-25 752 1064)" fill="#fff" stroke="#7d9cb0" stroke-width="1.500"/>
<!-- 18 clip -->
<path class="o" fill="#dfe7eb" d="M629 1145 634 1142 642 1148 647 1158 660 1151 664 1153 653 1160 652 1165 645 1160 637 1152Z"/>
<path class="o" fill="#6f8fa3" d="M638 1162 647 1163 649 1172 658 1170 664 1172 664 1186 658 1184 653 1186 650 1180 641 1179 638 1175Z"/>
<!-- 17 clip -->
<path class="o" fill="#8fabbc" d="M722 1198 736 1207 738 1230 746 1228 746 1235 735 1240 716 1228 716 1212Z"/>
<path fill="#e6edf0" d="M724 1207 727 1204 730 1210 728 1222 724 1224ZM731 1208 735 1210 733 1224 729 1224Z"/>

<!-- 20,21,22 -->
<path class="o" fill="url(#well)" d="M266 1238H282V1276L277 1279H270L266 1276Z"/>
<path class="t" d="M266 1248Q274 1252 282 1248M266 1254Q274 1258 282 1254M266 1260Q274 1264 282 1260M266 1266Q274 1270 282 1266M266 1272Q274 1276 282 1272"/>
<ellipse cx="273" cy="1230" rx="15" ry="9" fill="#8fabbc" stroke="#12303f" stroke-width="1.800"/>
<ellipse cx="273" cy="1226" rx="11" ry="7" fill="#c9d7df" stroke="#1d4053"/>
<path class="o" fill="url(#well)" d="M315 1246H333V1270L328 1278H320L316 1270Z"/>
<ellipse cx="324" cy="1241" rx="12" ry="6" fill="#a9bfcc" stroke="#12303f" stroke-width="1.800"/>
<ellipse cx="324" cy="1241" rx="7" ry="3.500" fill="#f0f4f6" stroke="#1d4053" stroke-width=".7"/>
<path class="o" fill="url(#well)" d="M355 1245H375V1276L365 1279 355 1276Z"/>
<ellipse cx="365" cy="1240" rx="12" ry="6" fill="#a9bfcc" stroke="#12303f" stroke-width="1.800"/>
<ellipse cx="365" cy="1240" rx="8" ry="4" fill="#f0f4f6" stroke="#1d4053" stroke-width=".7"/>

<!-- leader lines -->
<path class="l" d="M324 71H345M316 116H336M290 180H310M301 241H322M376 370H400M391 401H410M411 295V313M117 380H148M307 460V485M482 447V463M594 425V500M622 430V540M658 425V474M797 380V405M548 412V525M524 418 533 408H592L599 399 606 408H668L677 417M809 594H829M806 623H825M176 640 192 641M290 632 279 632M278 631 288 621H328L336 612 343 621H385L399 634M296 628V665M429 705 460 716M114 733V757M572 766H597M763 732H791M640 842H665M234 848H252M251 965V982M707 1005V1024M752 1032V1050M273 1206V1218M323 1206V1234M366 1206V1233M648 1170V1257M730 1228V1255M701 1160V1275M622 1265 634 1279H686L695 1295 704 1279H758L771 1265"/>

<!-- labels -->
<text x="359" y="92">27</text><text x="351" y="137">28</text><text x="123" y="183">24</text><text x="325" y="202">25</text>
<text x="336" y="262">24</text><text x="411" y="347">26</text><text x="412" y="392">24</text><text x="423" y="422">23</text>
<text x="105" y="401">4</text><text x="304" y="461">1A</text><text x="482" y="434">30</text><text x="599" y="409">1</text>
<text x="593" y="441">3</text><text x="622" y="442">4</text><text x="657" y="441">2</text><text x="793" y="382">19</text>
<text x="837" y="614">11</text><text x="833" y="645">12</text><text x="157" y="664">15</text><text x="336" y="622">6</text>
<text x="360" y="657" style="letter-spacing:-.6px">8 '7 '9</text><text x="470" y="742">14</text><text x="111" y="790">9</text><text x="609" y="788">29</text>
<text x="797" y="755">5</text><text x="675" y="862">13</text><text x="227" y="868">7</text><text x="249" y="1011">8</text>
<text x="706" y="1013">31</text><text x="751" y="1040">31</text><text x="273" y="1208">20</text><text x="321" y="1208">21</text>
<text x="366" y="1208">22</text><text x="643" y="1290">18</text><text x="726" y="1288">17</text><text x="691" y="1327">16</text>

<!-- footer -->
<rect x="706" y="1362" width="286" height="41" fill="#000"/>
<text x="849.500" y="1388" style="font-size:15px;fill:#fff;letter-spacing:.17px">Diagrams provided by catalogs parts</text>
</svg>
</body></html>
